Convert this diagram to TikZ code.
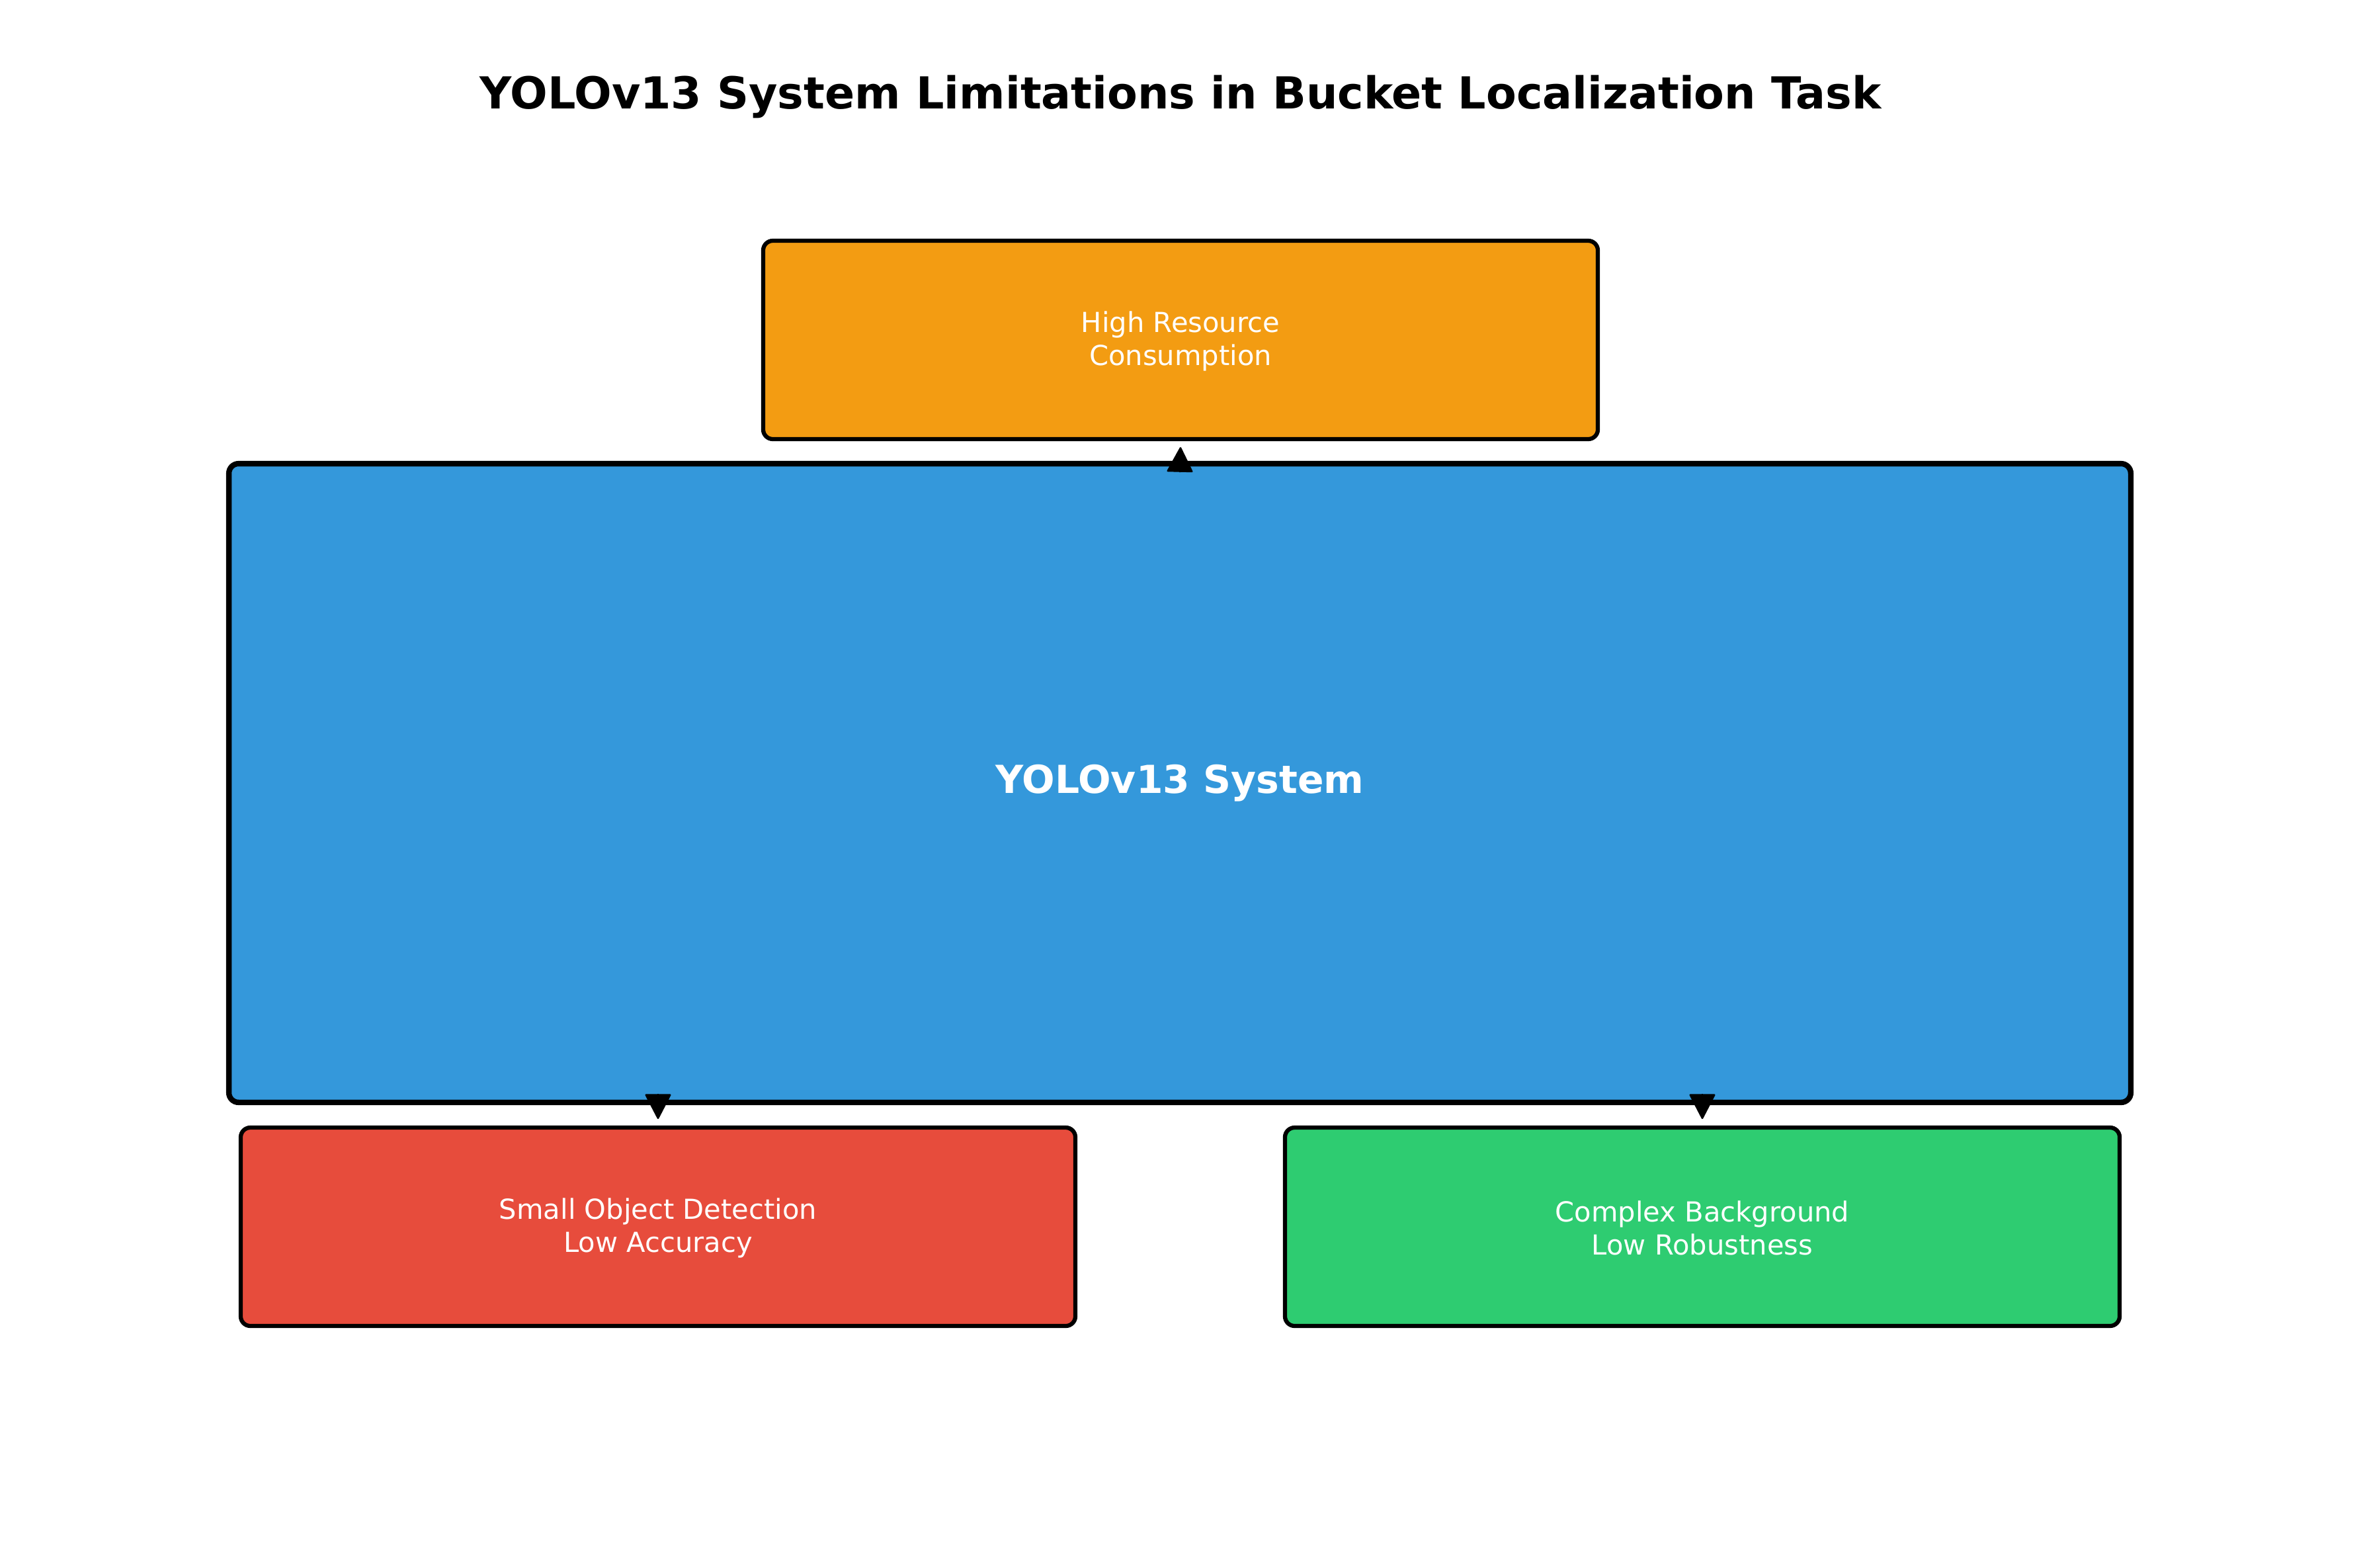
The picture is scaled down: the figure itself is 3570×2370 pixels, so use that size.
\documentclass[tikz,border=0pt]{standalone}
\usepackage{fontspec}
\setmainfont{DejaVu Sans}
\usetikzlibrary{arrows.meta,positioning,calc}
\definecolor{yoblue}{HTML}{3498DB}
\definecolor{yoorange}{HTML}{F39C12}
\definecolor{yored}{HTML}{E74C3C}
\definecolor{yogreen}{HTML}{2ECC71}
\tikzset{
  limbox/.style={draw=black, line width=1.5pt, rounded corners=3.5pt, align=center, text=white,
    font=\fontsize{10}{12}\selectfont, minimum width=302.9pt, minimum height=72pt, outer sep=0pt},
  sysbox/.style={draw=black, line width=2pt, fill=yoblue, rounded corners=3.5pt, align=center, text=white,
    font=\fontsize{14}{17}\selectfont\bfseries, minimum width=690.2pt, minimum height=231.8pt, outer sep=0pt},
  arr/.style={-{Triangle[length=9.4pt,width=9.6pt,round]}, line width=0.6pt, color=black},
}
\begin{document}
\begin{tikzpicture}[x=0.24pt,y=-0.24pt]
  \useasboundingbox (0,0) rectangle (3570,2370);
  \node[font=\fontsize{16}{19}\selectfont\bfseries] (title) at (1785,146) {YOLOv13 System Limitations in Bucket Localization Task};
  % system and its three limitations
  \node[sysbox] (sys) at (1784,1184) {YOLOv13 System};
  \node[limbox, fill=yoorange] (res) at (1785,514) {\strut High Resource\\Consumption};
  \node[limbox, fill=yored] (small) at (995,1855) {\strut Small Object Detection\\Low Accuracy};
  \node[limbox, fill=yogreen] (back) at (2574,1855) {\strut Complex Background\\Low Robustness};
  % arrows
  \draw[arr] ($(sys.north)+(0,-3.1pt)$) -- ($(res.south)+(0,-2.9pt)$);
  \draw[arr] ($(sys.south -| small.north)+(0,3.1pt)$) -- ($(small.north)+(0,3.1pt)$);
  \draw[arr] ($(sys.south -| back.north)+(0,3.1pt)$) -- ($(back.north)+(0,3.1pt)$);
\end{tikzpicture}
\end{document}
